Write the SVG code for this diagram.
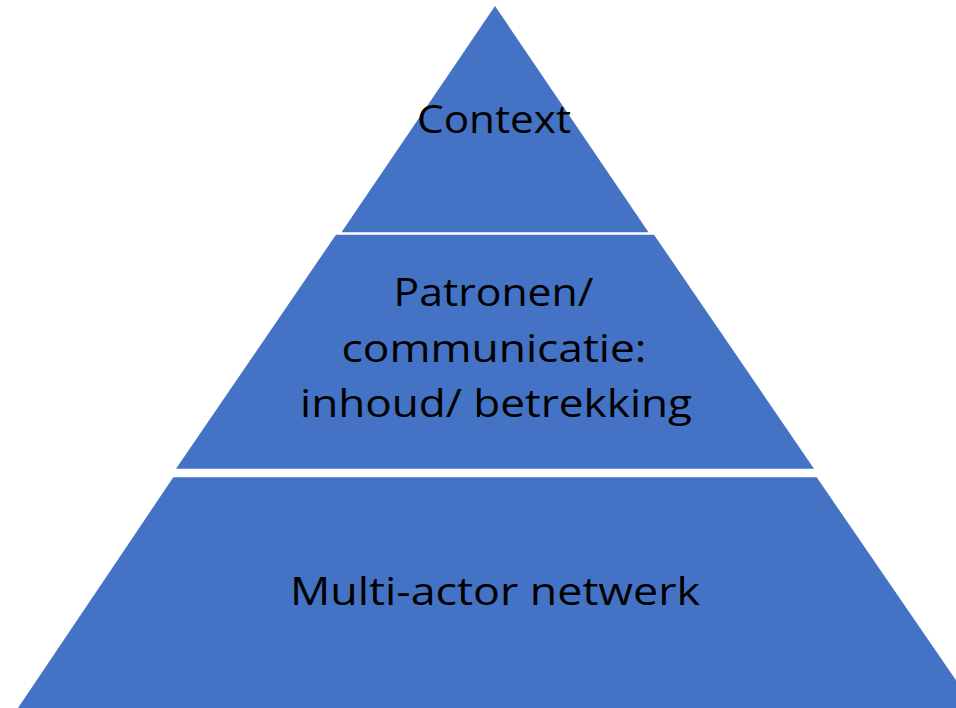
<svg xmlns="http://www.w3.org/2000/svg" width="956" height="708" viewBox="0 0 956 708">
<style>
.tier{fill:#4472C4;}
.lbl{font-family:"Open Sans",Lato,"Liberation Sans",sans-serif;font-size:38px;fill:#000;text-anchor:middle;font-variant-ligatures:none;}
</style>
<rect x="0" y="0" width="956" height="708" fill="#ffffff"/>
<g id="tier-context">
<polygon class="tier" points="495,6 648.5,232.3 341.5,232.3"/>
<text class="lbl" x="494" y="133" textLength="154" lengthAdjust="spacingAndGlyphs">Context</text>
</g>
<g id="tier-patronen">
<polygon class="tier" points="336,234.7 654,234.7 814,468.7 176,468.7"/>
<text class="lbl" x="493.5" y="306" textLength="200" lengthAdjust="spacingAndGlyphs">Patronen/</text>
<text class="lbl" x="494" y="361.5" textLength="305" lengthAdjust="spacingAndGlyphs">communicatie:</text>
<text class="lbl" x="496" y="417.3" textLength="392" lengthAdjust="spacingAndGlyphs">inhoud/ betrekking</text>
</g>
<g id="tier-netwerk">
<polygon class="tier" points="173.3,477.3 816.7,477.3 975,708 18,708"/>
<text class="lbl" x="495" y="604.5" textLength="410" lengthAdjust="spacingAndGlyphs">Multi-actor netwerk</text>
</g>
<g id="connectors"></g>
</svg>
